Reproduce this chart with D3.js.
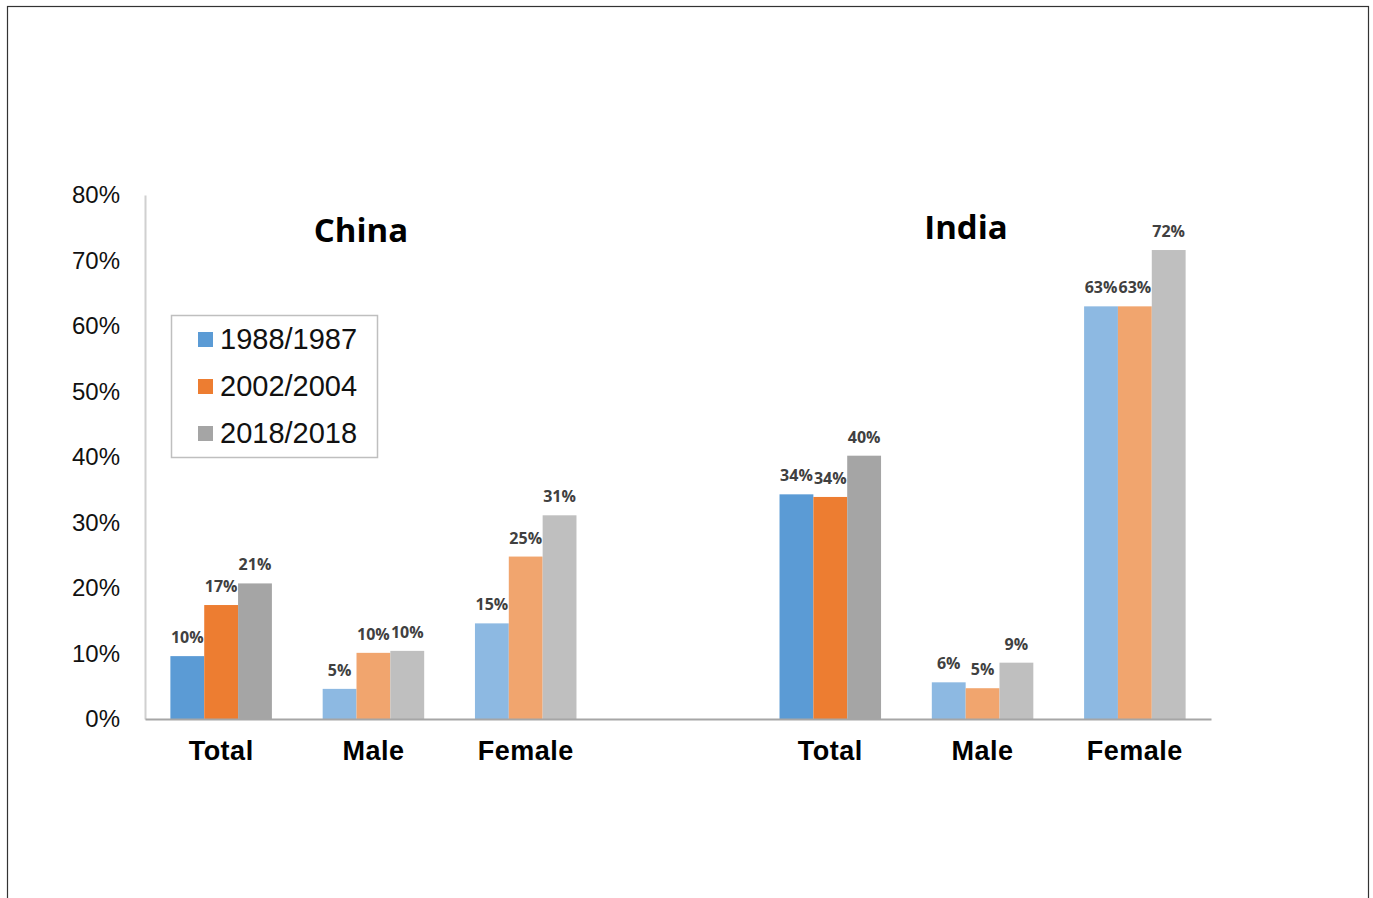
<!DOCTYPE html>
<html>
	<head>
		<meta charset="utf-8">
		<title>China / India bar chart</title>
		<script src="https://d3js.org/d3.v7.min.js"></script>
		<style type="text/css">
			body { margin: 0; background: #fff; }
			svg { display: block; }
		</style>
	</head>
	<body>
		<script type="text/javascript">

			var svgWidth = 1373;
			var svgHeight = 898;

			// slots on the x axis, one empty slot between the two countries
			var slots = ['China Total', 'China Male', 'China Female', 'gap', 'India Total', 'India Male', 'India Female'];
			var categoryLabels = ['Total', 'Male', 'Female', '', 'Total', 'Male', 'Female'];
			var series = ['1988/1987', '2002/2004', '2018/2018'];

			var values1988 = [0.096, 0.046, 0.146, null, 0.343, 0.056, 0.630];
			var values2002 = [0.174, 0.101, 0.248, null, 0.339, 0.047, 0.630];
			var values2018 = [0.207, 0.104, 0.311, null, 0.402, 0.086, 0.716];

			var yTicks = [0, 0.1, 0.2, 0.3, 0.4, 0.5, 0.6, 0.7, 0.8];
			var countries = ['China', 'India'];

			var colorsDark = ['#5B9BD5', '#ED7D31', '#A5A5A5'];
			var colorsLight = ['#8DB9E2', '#F1A56E', '#BFBFBF'];

			var allValues = [values1988, values2002, values2018];

			var svg = d3.select('body')
				.append('svg')
				.attr('width', svgWidth)
				.attr('height', svgHeight);

			// frame around the picture
			svg.append('rect')
				.attr('x', 7.5)
				.attr('y', 6.5)
				.attr('width', 1361)
				.attr('height', 920)
				.attr('fill', 'none')
				.attr('stroke', '#333')
				.attr('stroke-width', 1.2);

			var x0 = d3.scaleBand()
				.domain(slots)
				.range([145, 1211]);

			var x1 = d3.scaleBand()
				.domain(series)
				.range([0, x0.bandwidth()])
				.paddingOuter(0.75);

			var yScale = d3.scaleLinear()
				.domain([0, 0.8])
				.range([719, 195]);

			// y axis
			var yAxis = svg.append('g')
				.attr('transform', 'translate(145,0)')
				.call(d3.axisLeft(yScale)
					.tickValues(yTicks)
					.tickSize(0)
					.tickPadding(25)
					.tickFormat(d3.format('.0%')));
			yAxis.select('.domain')
				.attr('stroke', '#d0d0d0')
				.attr('stroke-width', 2);
			yAxis.selectAll('text')
				.attr('font-family', 'Liberation Sans, Arial, sans-serif')
				.attr('font-size', '24px')
				.attr('fill', '#111');

			// bars
			var groups = svg.selectAll('g.slot')
				.data(slots.filter(function(s) { return s !== 'gap'; }))
				.enter()
				.append('g')
				.attr('class', 'slot')
				.attr('transform', function(d) { return 'translate(' + x0(d) + ',0)'; });

			function barData(d) {
				var i = slots.indexOf(d);
				return series.map(function(s, k) {
					return { slot: d, series: s, k: k, value: allValues[k][i] };
				});
			}

			groups.selectAll('rect')
				.data(barData)
				.enter()
				.append('rect')
				.attr('x', function(d) { return x1(d.series); })
				.attr('y', function(d) { return yScale(d.value); })
				.attr('width', x1.bandwidth())
				.attr('height', function(d) { return yScale(0) - yScale(d.value); })
				.attr('fill', function(d) {
					return d.slot.indexOf('Total') >= 0 ? colorsDark[d.k] : colorsLight[d.k];
				});

			groups.selectAll('text')
				.data(barData)
				.enter()
				.append('text')
				.text(function(d) { return d3.format('.0%')(d.value); })
				.attr('x', function(d) { return x1(d.series) + x1.bandwidth() / 2; })
				.attr('y', function(d) { return yScale(d.value) - 13; })
				.attr('text-anchor', 'middle')
				.attr('font-family', 'Open Sans, sans-serif')
				.attr('font-weight', 'bold')
				.attr('font-size', '16px')
				.attr('fill', '#404040');

			// x axis
			var xAxis = svg.append('g')
				.attr('transform', 'translate(0,719)')
				.call(d3.axisBottom(x0)
					.tickSize(0)
					.tickPadding(22)
					.tickFormat(function(d) { return categoryLabels[slots.indexOf(d)]; }));
			xAxis.select('.domain')
				.attr('stroke', '#a6a6a6')
				.attr('stroke-width', 2);
			xAxis.selectAll('text')
				.attr('font-family', 'Liberation Sans, Arial, sans-serif')
				.attr('font-weight', 'bold')
				.attr('font-size', '27px')
				.attr('letter-spacing', '0.5px')
				.attr('fill', '#000');

			// country titles
			svg.selectAll('text.country')
				.data(countries)
				.enter()
				.append('text')
				.attr('class', 'country')
				.text(function(d) { return d; })
				.attr('x', function(d, i) { return i === 0 ? 361 : 966; })
				.attr('y', function(d, i) { return i === 0 ? 242 : 239; })
				.attr('text-anchor', 'middle')
				.attr('font-family', 'Open Sans, sans-serif')
				.attr('font-weight', 'bold')
				.attr('font-size', '33px')
				.attr('fill', '#000');

			// legend
			var legend = svg.append('g')
				.attr('transform', 'translate(171,315)');
			legend.append('rect')
				.attr('x', 0.5)
				.attr('y', 0.5)
				.attr('width', 206)
				.attr('height', 142)
				.attr('fill', '#fff')
				.attr('stroke', '#bfbfbf')
				.attr('stroke-width', 1.5);
			var items = legend.selectAll('g.item')
				.data(series)
				.enter()
				.append('g')
				.attr('class', 'item')
				.attr('transform', function(d, i) { return 'translate(0,' + (24 + i * 47) + ')'; });
			items.append('rect')
				.attr('x', 27)
				.attr('y', -7)
				.attr('width', 15)
				.attr('height', 15)
				.attr('fill', function(d, i) { return colorsDark[i]; });
			items.append('text')
				.text(function(d) { return d; })
				.attr('x', 49)
				.attr('y', 10)
				.attr('font-family', 'Liberation Sans, Arial, sans-serif')
				.attr('font-size', '29px')
				.attr('fill', '#111');

		</script>
	</body>
</html>
